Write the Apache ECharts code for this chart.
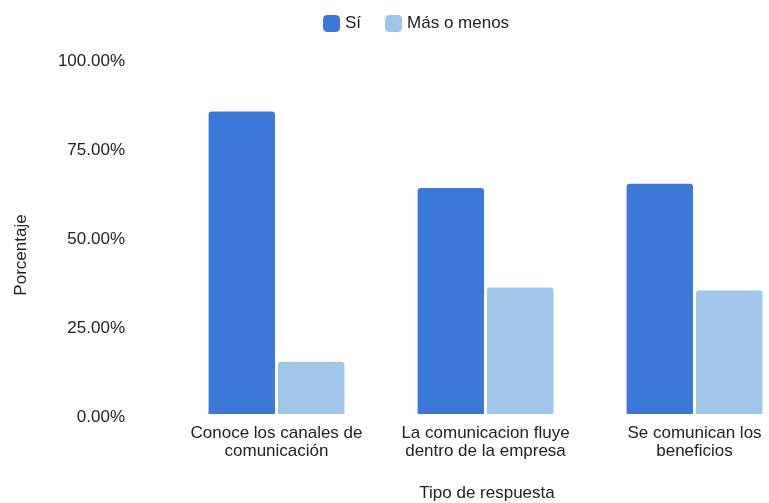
<!DOCTYPE html>
<html>
<head>
<meta charset="utf-8">
<script src="https://cdn.jsdelivr.net/npm/echarts@6/dist/echarts.min.js"></script>
<style>
  html, body { margin: 0; padding: 0; background: #fff; }
  #chart { width: 769px; height: 503px; }
</style>
</head>
<body>
<div id="chart"></div>
<script>
// Survey answers about internal communication, share per response type
const categories = [
  'Conoce los canales de\ncomunicación',
  'La comunicacion fluye\ndentro de la empresa',
  'Se comunican los\nbeneficios'
];
const seriesNames = ['Sí', 'Más o menos'];
const siValues = [85, 63.5, 64.7];
const masMenosValues = [14.7, 35.5, 34.7];
const yTicks = [0, 25, 50, 75, 100];

const FONT = '"Liberation Sans", Arial, sans-serif';
const FS = 17;

const chart = echarts.init(document.getElementById('chart'), null, { renderer: 'canvas' });

chart.setOption({
  animation: false,
  textStyle: { fontFamily: FONT },
  legend: {
    data: seriesNames,
    top: 10,
    left: 318,
    itemWidth: 17,
    itemHeight: 17,
    itemGap: 24,
    icon: 'roundRect',
    textStyle: { fontFamily: FONT, fontSize: FS, color: '#222' }
  },
  // the plot area runs past the right edge of the canvas
  grid: {
    left: 172,
    width: 627,
    top: 58,
    bottom: 89,
    containLabel: false,
    outerBoundsMode: 'none'
  },
  xAxis: {
    type: 'category',
    data: categories,
    axisLine: { show: false },
    axisTick: { show: false },
    axisLabel: {
      interval: 0,
      margin: 10,
      fontFamily: FONT,
      fontSize: FS,
      lineHeight: 18,
      color: '#222'
    }
  },
  yAxis: {
    type: 'value',
    min: yTicks[0],
    max: yTicks[yTicks.length - 1],
    interval: 25,
    splitLine: { show: false },
    axisLine: { show: false },
    axisTick: { show: false },
    axisLabel: {
      margin: 47,
      // labels sit a few pixels below their tick value
      verticalAlign: 'top',
      lineHeight: 7,
      fontFamily: FONT,
      fontSize: FS,
      color: '#222',
      formatter: v => v.toFixed(2) + '%'
    }
  },
  graphic: [
    {
      type: 'text',
      x: 487,
      y: 493,
      style: {
        text: 'Tipo de respuesta',
        font: FS + 'px ' + FONT,
        fill: '#222',
        align: 'center',
        verticalAlign: 'middle'
      }
    },
    {
      type: 'text',
      x: 21,
      y: 255,
      rotation: Math.PI / 2,
      style: {
        text: 'Porcentaje',
        font: FS + 'px ' + FONT,
        fill: '#222',
        align: 'center',
        verticalAlign: 'middle'
      }
    }
  ],
  series: [
    {
      name: seriesNames[0],
      type: 'bar',
      data: siValues,
      barCategoryGap: '35%',
      barGap: '4.5%',
      itemStyle: { color: '#3c78d8', borderRadius: [3, 3, 0, 0] }
    },
    {
      name: seriesNames[1],
      type: 'bar',
      data: masMenosValues,
      itemStyle: { color: '#9fc5e8', borderRadius: [3, 3, 0, 0] }
    }
  ]
});
</script>
</body>
</html>
